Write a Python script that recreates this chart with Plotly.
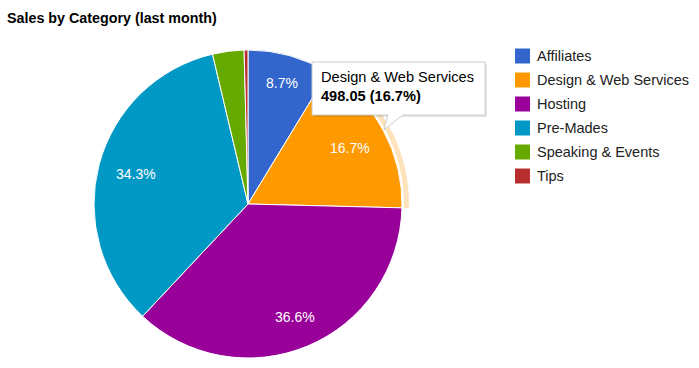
import math
import plotly.graph_objects as go

labels = ["Affiliates", "Design & Web Services", "Hosting", "Pre-Mades", "Speaking & Events", "Tips"]
values = [259.4, 498.05, 1091.5, 1022.9, 98.4, 12.0]
colors = ["#3366cc", "#ff9900", "#990099", "#0099c6", "#66aa00", "#b82e2e"]
title = "Sales by Category (last month)"
hovered = 1

W, H = 699, 368
FONT = "Arial, Liberation Sans, sans-serif"
total = sum(values)
pcts = [v / total * 100 for v in values]


def px(x):
    return x / W


def py(y):
    return 1 - y / H


def dom(cx, cy, r):
    return dict(x=[px(cx - r), px(cx + r)], y=[py(cy + r), py(cy - r)])


cx, cy, r = 248, 204, 154
fig = go.Figure()

# highlight ring of hovered slice
ring_colors = ["rgba(0,0,0,0)"] * len(values)
ring_colors[hovered] = "#fee2bb"
fig.add_trace(go.Pie(
    labels=labels, values=values, sort=False, direction="clockwise",
    domain=dom(cx, cy, 161), hole=156 / 161,
    marker=dict(colors=ring_colors, line=dict(width=0)),
    textinfo="none", showlegend=False, hoverinfo="skip",
))

fig.add_trace(go.Pie(
    labels=labels, values=values, sort=False, direction="clockwise",
    domain=dom(cx, cy, r),
    marker=dict(colors=colors, line=dict(color="white", width=1)),
    textinfo="none", showlegend=False,
))

# slice percentage labels (Google-style placement near the rim)
cw = {".": 3.89, "%": 12.45}
cum = 0.0
for v, p in zip(values, pcts):
    theta = 2 * math.pi * (cum + v / 2) / total
    cum += v
    if p < 5:
        continue
    t = f"{p:.1f}%"
    w = sum(cw.get(ch, 7.78) for ch in t) / 2
    s, c = math.sin(theta), math.cos(theta)
    d = 137 - (abs(s) * w + abs(c) * 7)
    fig.add_annotation(xref="paper", yref="paper", x=px(cx + d * s), y=py(cy - d * c),
                       xanchor="center", yanchor="middle", showarrow=False, text=t,
                       font=dict(family=FONT, size=14, color="white"))

# legend (manual, Google-style spacing)
for i, (lab, col) in enumerate(zip(labels, colors)):
    yc = 56 + 24 * i
    fig.add_shape(type="rect", xref="paper", yref="paper",
                  x0=px(515), x1=px(530), y0=py(yc + 7.5), y1=py(yc - 7.5),
                  fillcolor=col, line=dict(width=0))
    fig.add_annotation(xref="paper", yref="paper", x=px(534.5), y=py(yc),
                       xanchor="left", yanchor="middle", showarrow=False, text=lab,
                       font=dict(family=FONT, size=14.5, color="#222222"))

# tooltip
tip = f"{labels[hovered]}<br><b>{values[hovered]:.2f} ({pcts[hovered]:.1f}%)</b>"
x0, x1, y0, y1 = 312, 485, 62, 115
fig.add_shape(type="rect", xref="paper", yref="paper",
              x0=px(x0 + 2), x1=px(x1 + 2), y0=py(y1 + 2), y1=py(y0 + 2),
              fillcolor="rgba(0,0,0,0.10)", line=dict(width=0), layer="above")
fig.add_shape(type="rect", xref="paper", yref="paper",
              x0=px(x0), x1=px(x1), y0=py(y1), y1=py(y0),
              fillcolor="white", line=dict(color="#cccccc", width=1), layer="above")
tail = f"M {px(388)} {py(114.5)} L {px(384)} {py(130)} L {px(403)} {py(114.5)}"
fig.add_shape(type="path", xref="paper", yref="paper", path=tail,
              fillcolor="white", line=dict(color="#cccccc", width=1), layer="above")
fig.add_shape(type="line", xref="paper", yref="paper",
              x0=px(388.8), x1=px(402.2), y0=py(115), y1=py(115),
              line=dict(color="white", width=2), layer="above")
fig.add_annotation(xref="paper", yref="paper", x=px(318.5), y=py(67),
                   xanchor="left", yanchor="top", align="left", showarrow=False,
                   text=tip, font=dict(family=FONT, size=14.6, color="#000000"))

fig.update_layout(
    width=W, height=H,
    margin=dict(l=0, r=0, t=0, b=0),
    paper_bgcolor="white", plot_bgcolor="white",
    showlegend=False,
    title=dict(text=f"<b>{title}</b>", x=px(7), xanchor="left", y=py(18), yanchor="middle",
               font=dict(family=FONT, size=14.3, color="#000000")),
    font=dict(family=FONT),
)

fig.write_html("out.html", config={"displayModeBar": False},
               post_script="document.body.style.margin='0';")
